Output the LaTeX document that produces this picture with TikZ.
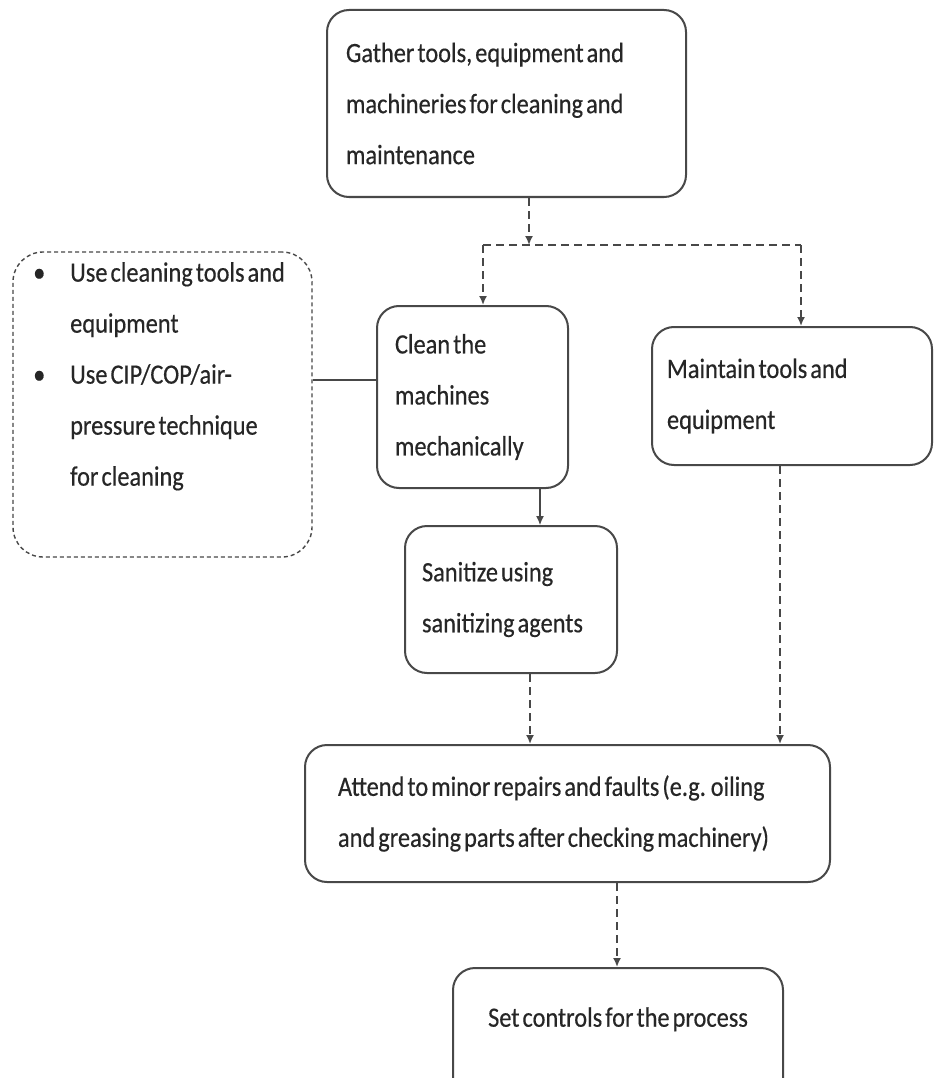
\documentclass[tikz,border=0pt]{standalone}
\usepackage{fontspec}
\setmainfont{Carlito}[FakeStretch=0.87, WordSpace=0.55, FakeBold=0.4]
\usetikzlibrary{arrows.meta}
\definecolor{ink}{HTML}{262626}
\definecolor{edge}{HTML}{484848}
\begin{document}
\begin{tikzpicture}[x=1pt,y=-1pt,
  every node/.style={font=\fontsize{28pt}{51pt}\selectfont, text=ink},
  stepbox/.style={draw=edge, line width=2pt, rounded corners=22pt, inner sep=0pt},
  notebox/.style={draw=edge, line width=1.4pt, dash pattern=on 4pt off 3pt, rounded corners=30pt, inner sep=0pt},
  flow/.style={draw=edge, line width=1.7pt, dash pattern=on 8pt off 5pt},
  tip/.style={-{Latex[length=9pt,width=8pt]}},
  link/.style={draw=edge, line width=1.2pt}]
\clip (0,0) rectangle (935,1078);
\fill[white] (0,0) rectangle (935,1078);

% process steps
\node[stepbox, minimum width=359pt, minimum height=187pt, text width=321pt, align=flush left]
  (gather) at (506.5,103.5) {Gather tools, equipment and\\machineries for cleaning and\\maintenance};
\node[stepbox, minimum width=191pt, minimum height=182pt, text width=155pt, align=flush left]
  (clean) at (472.5,397) {Clean the\\machines\\mechanically};
\node[stepbox, minimum width=280pt, minimum height=138pt, text width=250pt, align=flush left]
  (maint) at (792,396) {Maintain tools and\\equipment};
\node[stepbox, minimum width=212pt, minimum height=147pt, text width=178pt, align=flush left]
  (sanit) at (511,599.5) {Sanitize using\\sanitizing agents};
\node[stepbox, minimum width=525pt, minimum height=137pt, text width=459pt, align=flush left]
  (attend) at (567.5,813.5) {Attend to minor repairs and faults (e.g. oiling\\and greasing parts after checking machinery)};
\node[stepbox, minimum width=330pt, minimum height=152pt, text width=300pt, align=flush center, text depth=54pt]
  (set) at (618,1044) {Set controls for the process};

% side notes
\node[notebox, minimum width=299pt, minimum height=305pt] (notes) at (162.5,404.5) {};
\node[anchor=north west, inner sep=0pt, align=flush left] (notetext) at (33,262)
  {\makebox[37pt][l]{\textbullet}Use cleaning tools and\\
   \hspace*{37pt}equipment\\
   \makebox[37pt][l]{\textbullet}Use CIP/COP/air-\\
   \hspace*{37pt}pressure technique\\
   \hspace*{37pt}for cleaning};

% branching connectors
\coordinate (gx) at (529,0);
\coordinate (jl) at (483,245);
\coordinate (jr) at (801,245);
\coordinate (jm) at (529,245);
\draw[flow, tip] (gather.south -| gx) -- (jm);
\draw[flow] (jl) -- (jr);
\draw[flow, tip] (jl) -- (clean.north -| jl);
\draw[flow, tip] (jr) -- (maint.north -| jr);

\coordinate (cx) at (540,0);
\draw[link, tip] (clean.south -| cx) -- (sanit.north -| cx);

\coordinate (sx) at (530,0);
\draw[flow, tip] (sanit.south -| sx) -- (attend.north -| sx);
\coordinate (mx) at (780,0);
\draw[flow, tip] (maint.south -| mx) -- (attend.north -| mx);
\coordinate (ax) at (617,0);
\draw[flow, tip] (attend.south -| ax) -- (set.north -| ax);

\coordinate (ny) at (0,380);
\draw[link] (notes.east |- ny) -- (clean.west |- ny);
\end{tikzpicture}
\end{document}
